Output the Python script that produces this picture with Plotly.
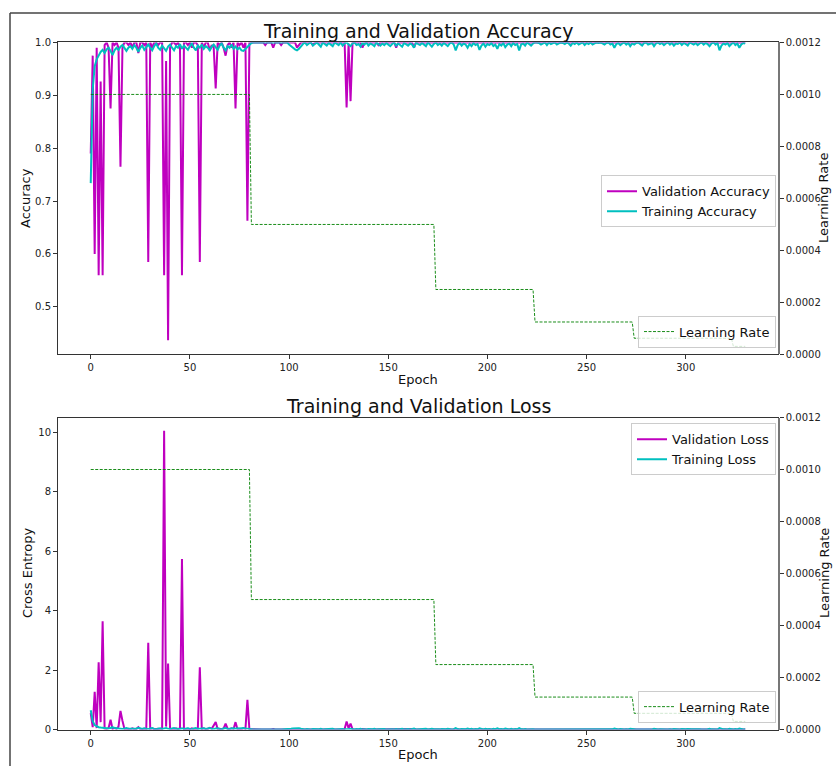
import plotly.graph_objects as go

# ---------------- data ----------------
epochs = list(range(331))

val_acc = [
    0.79, 0.975, 0.60, 0.99, 0.56, 0.926, 0.56, 0.995, 1.0, 0.99,
    0.875, 1.0, 0.995, 1.0, 0.99, 0.765, 0.99, 1.0, 1.0, 0.995,
    1.0, 0.99, 1.0, 1.0, 0.98, 1.0, 1.0, 0.995, 1.0, 0.585,
    1.0, 0.99, 1.0, 1.0, 0.995, 1.0, 1.0, 0.56, 0.965, 0.437,
    0.99, 1.0, 1.0, 0.995, 1.0, 0.99, 0.56, 1.0, 1.0, 0.995,
    1.0, 0.99, 1.0, 1.0, 0.995, 0.585, 1.0, 0.99, 1.0, 1.0,
    0.985, 0.995, 0.99, 0.913, 1.0, 0.995, 1.0, 0.99, 0.975, 0.995,
    1.0, 0.99, 1.0, 0.875, 1.0, 0.995, 1.0, 0.99, 1.0, 0.663,
    1.0, 1.0, 1.0, 1.0, 1.0, 1.0, 1.0, 1.0, 0.995, 1.0,
    1.0, 1.0, 0.99, 1.0, 1.0, 1.0, 0.995, 1.0, 1.0, 1.0,
    1.0, 1.0, 1.0, 1.0, 0.99, 0.995, 1.0, 1.0, 1.0, 1.0,
    1.0, 1.0, 0.995, 1.0, 1.0, 1.0, 1.0, 1.0, 1.0, 1.0,
    1.0, 1.0, 1.0, 1.0, 1.0, 1.0, 1.0, 1.0, 1.0, 0.877,
    0.998, 0.889, 1.0, 1.0, 1.0, 1.0, 1.0, 0.99, 1.0, 1.0,
    1.0, 1.0, 1.0, 1.0, 1.0, 0.995, 1.0, 1.0, 1.0, 1.0,
    1.0, 1.0, 1.0, 1.0, 0.99, 1.0, 1.0, 1.0, 1.0, 1.0,
    1.0, 1.0, 1.0, 0.99, 1.0, 1.0, 1.0, 1.0, 1.0, 1.0,
    1.0, 1.0, 1.0, 1.0, 1.0, 1.0, 1.0, 1.0, 1.0, 1.0,
    1.0, 1.0, 1.0, 1.0, 1.0, 1.0, 1.0, 1.0, 1.0, 1.0,
    1.0, 1.0, 1.0, 1.0, 1.0, 1.0, 1.0, 1.0, 1.0, 1.0,
    1.0, 1.0, 1.0, 1.0, 1.0, 1.0, 1.0, 1.0, 1.0, 1.0,
    1.0, 1.0, 1.0, 1.0, 1.0, 1.0, 1.0, 1.0, 1.0, 1.0,
    1.0, 1.0, 1.0, 1.0, 1.0, 1.0, 1.0, 1.0, 1.0, 1.0,
    1.0, 1.0, 1.0, 1.0, 1.0, 1.0, 1.0, 1.0, 1.0, 1.0,
    1.0, 1.0, 1.0, 1.0, 1.0, 1.0, 1.0, 1.0, 1.0, 1.0,
    1.0, 1.0, 1.0, 1.0, 1.0, 1.0, 1.0, 1.0, 1.0, 1.0,
    1.0, 1.0, 1.0, 1.0, 1.0, 1.0, 1.0, 1.0, 1.0, 1.0,
    1.0, 1.0, 1.0, 1.0, 1.0, 1.0, 1.0, 1.0, 1.0, 1.0,
    1.0, 1.0, 1.0, 1.0, 1.0, 1.0, 1.0, 1.0, 1.0, 1.0,
    1.0, 1.0, 1.0, 1.0, 1.0, 1.0, 1.0, 1.0, 1.0, 1.0,
    1.0, 1.0, 1.0, 1.0, 1.0, 1.0, 1.0, 1.0, 1.0, 1.0,
    1.0, 1.0, 1.0, 1.0, 1.0, 1.0, 1.0, 1.0, 1.0, 1.0,
    1.0, 1.0, 1.0, 1.0, 1.0, 1.0, 1.0, 1.0, 1.0, 1.0,
    1.0,
]

train_acc = [
    0.734, 0.912, 0.955, 0.968, 0.975, 0.982, 0.986, 0.98, 0.987, 0.99,
    0.984, 0.976, 0.985, 0.99, 0.986, 0.992, 0.995, 0.99, 0.984, 0.99,
    0.993, 0.988, 0.995, 0.99, 0.982, 0.99, 0.994, 0.986, 0.99, 0.996,
    0.99, 0.985, 0.993, 0.998, 0.99, 0.986, 0.994, 0.99, 0.984, 0.992,
    0.996, 0.99, 0.985, 0.993, 0.99, 0.997, 0.988, 0.994, 0.99, 0.986,
    0.993, 0.998, 0.99, 0.985, 0.994, 0.99, 0.996, 0.988, 0.993, 0.99,
    0.985, 0.992, 0.996, 0.99, 0.986, 0.994, 0.998, 0.99, 0.985, 0.993,
    0.99, 0.996, 0.988, 0.992, 0.987, 0.99, 0.985, 0.984, 0.988, 0.992,
    0.996, 0.999, 1.0, 1.0, 0.999, 1.0, 1.0, 1.0, 0.999, 1.0,
    1.0, 1.0, 0.999, 1.0, 1.0, 1.0, 1.0, 0.999, 1.0, 1.0,
    0.996, 0.992, 0.99, 0.987, 0.985, 0.988, 0.993, 0.997, 1.0, 0.995,
    0.998, 1.0, 0.994, 0.997, 1.0, 0.996, 0.992, 1.0, 0.996, 0.994,
    0.999, 0.996, 0.993, 1.0, 0.997, 0.995, 1.0, 0.994, 0.998, 1.0,
    0.996, 0.993, 0.998, 1.0, 0.995, 0.997, 0.992, 0.999, 0.996, 1.0,
    0.994, 0.998, 0.996, 0.993, 1.0, 0.997, 0.994, 0.998, 0.995, 0.999,
    0.996, 0.993, 0.997, 1.0, 0.994, 0.998, 0.995, 0.992, 0.999, 0.996,
    0.994, 0.998, 0.996, 0.99, 1.0, 0.997, 0.995, 0.999, 0.996, 0.993,
    1.0, 0.996, 0.992, 0.997, 1.0, 0.995, 0.998, 0.994, 0.999, 0.996,
    0.993, 0.998, 1.0, 0.996, 0.985, 0.995, 0.999, 0.994, 0.998, 0.996,
    0.99, 0.997, 0.993, 0.999, 0.995, 0.997, 0.986, 0.994, 0.998, 0.992,
    0.997, 0.995, 0.999, 0.993, 0.996, 0.988, 0.997, 0.994, 0.999, 0.991,
    0.996, 0.998, 0.993, 0.999, 0.995, 0.997, 0.985, 0.996, 0.998, 0.994,
    1.0, 0.997, 0.994, 0.998, 1.0, 1.0, 0.999, 0.996, 0.998, 1.0,
    0.995, 1.0, 0.997, 0.999, 1.0, 0.996, 0.998, 1.0, 0.999, 0.997,
    1.0, 0.998, 0.994, 0.999, 0.997, 1.0, 0.996, 0.998, 1.0, 0.995,
    0.999, 0.997, 1.0, 0.996, 0.998, 1.0, 0.999, 1.0, 0.998, 0.996,
    0.999, 1.0, 0.996, 0.998, 0.99, 0.997, 0.999, 0.995, 0.998, 1.0,
    0.996, 0.999, 0.993, 0.998, 0.996, 0.999, 1.0, 0.997, 0.994, 0.999,
    1.0, 0.996, 0.998, 0.999, 0.993, 0.998, 1.0, 0.997, 0.999, 0.995,
    0.998, 1.0, 0.996, 0.999, 0.994, 0.998, 0.997, 1.0, 0.995, 0.999,
    0.997, 0.994, 1.0, 0.998, 0.996, 0.999, 0.995, 0.998, 1.0, 0.996,
    0.999, 0.997, 0.993, 0.998, 1.0, 0.996, 0.999, 0.985, 0.994, 0.998,
    0.996, 0.999, 0.993, 0.997, 1.0, 0.995, 0.998, 0.99, 0.996, 0.999,
    0.998,
]

val_loss = [
    0.55, 0.08, 1.27, 0.05, 2.26, 0.25, 3.64, 0.03, 0.02, 0.05,
    0.33, 0.02, 0.06, 0.02, 0.10, 0.63, 0.30, 0.02, 0.01, 0.03,
    0.01, 0.04, 0.01, 0.02, 0.08, 0.01, 0.02, 0.03, 0.01, 2.92,
    0.01, 0.04, 0.01, 0.02, 0.03, 0.01, 0.02, 10.05, 0.10, 2.22,
    0.03, 0.02, 0.01, 0.04, 0.01, 0.05, 5.74, 0.01, 0.02, 0.03,
    0.01, 0.04, 0.01, 0.02, 0.03, 2.10, 0.01, 0.04, 0.01, 0.02,
    0.06, 0.03, 0.15, 0.25, 0.02, 0.03, 0.01, 0.04, 0.20, 0.03,
    0.01, 0.04, 0.02, 0.25, 0.01, 0.03, 0.01, 0.05, 0.02, 1.00,
    0.01, 0.005, 0.004, 0.005, 0.003, 0.004, 0.005, 0.003, 0.01, 0.004,
    0.003, 0.004, 0.02, 0.004, 0.003, 0.005, 0.01, 0.003, 0.004, 0.003,
    0.004, 0.003, 0.005, 0.004, 0.02, 0.01, 0.004, 0.003, 0.005, 0.004,
    0.003, 0.004, 0.01, 0.003, 0.004, 0.003, 0.005, 0.004, 0.003, 0.004,
    0.003, 0.004, 0.003, 0.005, 0.004, 0.003, 0.004, 0.003, 0.02, 0.27,
    0.05, 0.20, 0.01, 0.004, 0.003, 0.005, 0.004, 0.02, 0.003, 0.004,
    0.003, 0.004, 0.003, 0.005, 0.004, 0.01, 0.003, 0.004, 0.003, 0.004,
    0.003, 0.004, 0.005, 0.003, 0.02, 0.004, 0.003, 0.004, 0.003, 0.005,
    0.004, 0.003, 0.004, 0.02, 0.003, 0.004, 0.003, 0.004, 0.005, 0.003,
    0.003, 0.002, 0.003, 0.004, 0.002, 0.003, 0.002, 0.003, 0.004, 0.002,
    0.003, 0.002, 0.003, 0.002, 0.004, 0.003, 0.002, 0.003, 0.002, 0.003,
    0.002, 0.003, 0.004, 0.002, 0.003, 0.002, 0.003, 0.002, 0.003, 0.004,
    0.002, 0.003, 0.002, 0.003, 0.002, 0.004, 0.003, 0.002, 0.003, 0.002,
    0.003, 0.002, 0.003, 0.004, 0.002, 0.003, 0.002, 0.003, 0.002, 0.003,
    0.002, 0.003, 0.002, 0.003, 0.002, 0.002, 0.003, 0.002, 0.002, 0.003,
    0.002, 0.002, 0.003, 0.002, 0.002, 0.003, 0.002, 0.002, 0.003, 0.002,
    0.002, 0.003, 0.002, 0.002, 0.003, 0.002, 0.002, 0.003, 0.002, 0.002,
    0.003, 0.002, 0.002, 0.003, 0.002, 0.002, 0.003, 0.002, 0.002, 0.003,
    0.002, 0.002, 0.003, 0.002, 0.002, 0.003, 0.002, 0.002, 0.003, 0.002,
    0.002, 0.003, 0.002, 0.002, 0.003, 0.002, 0.002, 0.003, 0.002, 0.002,
    0.003, 0.002, 0.002, 0.003, 0.002, 0.002, 0.003, 0.002, 0.002, 0.003,
    0.002, 0.002, 0.003, 0.002, 0.002, 0.003, 0.002, 0.002, 0.003, 0.002,
    0.002, 0.003, 0.002, 0.002, 0.003, 0.002, 0.002, 0.003, 0.002, 0.002,
    0.003, 0.002, 0.002, 0.003, 0.002, 0.002, 0.003, 0.002, 0.002, 0.003,
    0.002, 0.002, 0.003, 0.002, 0.002, 0.003, 0.002, 0.002, 0.003, 0.002,
    0.003,
]

train_loss = [
    0.65, 0.28, 0.15, 0.10, 0.08, 0.07, 0.06, 0.065, 0.05, 0.04,
    0.055, 0.08, 0.05, 0.035, 0.045, 0.03, 0.02, 0.035, 0.05, 0.03,
    0.025, 0.04, 0.02, 0.03, 0.06, 0.03, 0.02, 0.045, 0.03, 0.015,
    0.035, 0.05, 0.02, 0.01, 0.03, 0.045, 0.02, 0.035, 0.05, 0.025,
    0.015, 0.035, 0.05, 0.02, 0.03, 0.01, 0.04, 0.02, 0.035, 0.045,
    0.02, 0.01, 0.035, 0.05, 0.02, 0.03, 0.015, 0.04, 0.02, 0.035,
    0.05, 0.025, 0.015, 0.035, 0.045, 0.02, 0.01, 0.035, 0.05, 0.02,
    0.03, 0.015, 0.04, 0.025, 0.045, 0.035, 0.05, 0.055, 0.04, 0.025,
    0.012, 0.005, 0.003, 0.002, 0.004, 0.002, 0.003, 0.002, 0.004, 0.002,
    0.002, 0.003, 0.004, 0.002, 0.003, 0.002, 0.002, 0.004, 0.002, 0.003,
    0.015, 0.03, 0.04, 0.05, 0.06, 0.045, 0.025, 0.012, 0.005, 0.018,
    0.008, 0.003, 0.02, 0.01, 0.002, 0.014, 0.028, 0.003, 0.015, 0.02,
    0.005, 0.014, 0.025, 0.002, 0.01, 0.018, 0.002, 0.02, 0.007, 0.002,
    0.014, 0.025, 0.007, 0.002, 0.018, 0.01, 0.028, 0.004, 0.014, 0.002,
    0.02, 0.007, 0.014, 0.025, 0.002, 0.01, 0.02, 0.007, 0.018, 0.004,
    0.014, 0.025, 0.01, 0.002, 0.02, 0.007, 0.018, 0.03, 0.004, 0.014,
    0.02, 0.007, 0.014, 0.035, 0.002, 0.01, 0.018, 0.004, 0.014, 0.025,
    0.002, 0.014, 0.03, 0.01, 0.002, 0.018, 0.007, 0.02, 0.004, 0.014,
    0.025, 0.007, 0.002, 0.014, 0.05, 0.018, 0.004, 0.02, 0.007, 0.014,
    0.035, 0.01, 0.025, 0.004, 0.018, 0.01, 0.045, 0.02, 0.007, 0.03,
    0.01, 0.018, 0.004, 0.025, 0.014, 0.04, 0.01, 0.02, 0.004, 0.032,
    0.014, 0.007, 0.025, 0.004, 0.018, 0.01, 0.05, 0.014, 0.007, 0.02,
    0.002, 0.01, 0.02, 0.007, 0.002, 0.002, 0.004, 0.014, 0.007, 0.002,
    0.018, 0.002, 0.01, 0.004, 0.002, 0.014, 0.007, 0.002, 0.004, 0.01,
    0.002, 0.007, 0.02, 0.004, 0.01, 0.002, 0.014, 0.007, 0.002, 0.018,
    0.004, 0.01, 0.002, 0.014, 0.007, 0.002, 0.004, 0.002, 0.007, 0.014,
    0.004, 0.002, 0.014, 0.007, 0.035, 0.01, 0.004, 0.018, 0.007, 0.002,
    0.014, 0.004, 0.025, 0.007, 0.014, 0.004, 0.002, 0.01, 0.02, 0.004,
    0.002, 0.014, 0.007, 0.004, 0.025, 0.007, 0.002, 0.01, 0.004, 0.018,
    0.007, 0.002, 0.014, 0.004, 0.02, 0.007, 0.01, 0.002, 0.018, 0.004,
    0.01, 0.02, 0.002, 0.007, 0.014, 0.004, 0.018, 0.007, 0.002, 0.014,
    0.004, 0.01, 0.025, 0.007, 0.002, 0.014, 0.004, 0.05, 0.02, 0.007,
    0.014, 0.004, 0.025, 0.01, 0.002, 0.018, 0.007, 0.035, 0.014, 0.004,
    0.007,
]

# learning-rate schedule: value per phase and first epoch of each new phase
lr_values = [0.001, 0.0005, 0.00025, 0.000125, 0.0000625, 0.00003125]
lr_change_epochs = [81, 174, 224, 274, 324]

learning_rate = []
for e in epochs:
    phase = sum(1 for c in lr_change_epochs if e >= c)
    learning_rate.append(lr_values[phase])

acc_ticks = [0.5, 0.6, 0.7, 0.8, 0.9, 1.0]
loss_ticks = [0, 2, 4, 6, 8, 10]
lr_ticks = [0.0, 0.0002, 0.0004, 0.0006, 0.0008, 0.0010, 0.0012]
epoch_ticks = [0, 50, 100, 150, 200, 250, 300]

# ---------------- style ----------------
W, H = 836, 772
FONT = "DejaVu Sans"
MAG = "#bf00bf"
CYAN = "#00bfbf"
GREEN = "#008000"
AX = "#333333"


def px_x(x):
    return x / W


def px_y(y):
    return 1 - y / H


x_dom = [px_x(58), px_x(778)]
top_dom = [px_y(354), px_y(37)]
bot_dom = [px_y(735), px_y(418)]

fig = go.Figure()

fig.add_trace(go.Scatter(x=epochs, y=val_acc, mode="lines", name="Validation Accuracy",
                         line=dict(color=MAG, width=2), xaxis="x", yaxis="y", legend="legend"))
fig.add_trace(go.Scatter(x=epochs, y=train_acc, mode="lines", name="Training Accuracy",
                         line=dict(color=CYAN, width=2), xaxis="x", yaxis="y", legend="legend"))
fig.add_trace(go.Scatter(x=epochs, y=learning_rate, mode="lines", name="Learning Rate",
                         line=dict(color=GREEN, width=0.9, dash="3px,1.5px"),
                         xaxis="x", yaxis="y2", legend="legend2"))

fig.add_trace(go.Scatter(x=epochs, y=val_loss, mode="lines", name="Validation Loss",
                         line=dict(color=MAG, width=2), xaxis="x2", yaxis="y3", legend="legend3"))
fig.add_trace(go.Scatter(x=epochs, y=train_loss, mode="lines", name="Training Loss",
                         line=dict(color=CYAN, width=2), xaxis="x2", yaxis="y3", legend="legend3"))
fig.add_trace(go.Scatter(x=epochs, y=learning_rate, mode="lines", name="Learning Rate",
                         line=dict(color=GREEN, width=0.9, dash="3px,1.5px"),
                         xaxis="x2", yaxis="y4", legend="legend4"))

axis_common = dict(showline=True, linecolor=AX, linewidth=1, mirror=True, ticks="outside",
                   ticklen=4, tickcolor=AX, showgrid=False, zeroline=False,
                   tickfont=dict(family=FONT, size=10, color="#222"))

xaxis_common = dict(axis_common, range=[-16.5, 346.5], tickvals=epoch_ticks)

legend_common = dict(bgcolor="rgba(255,255,255,0.8)", bordercolor="#cccccc", borderwidth=1,
                     font=dict(family=FONT, size=13, color="#111"), xanchor="right",
                     x=px_x(776), itemwidth=30, tracegroupgap=0)

fig.update_layout(
    width=W, height=H,
    margin=dict(l=0, r=0, t=0, b=0),
    paper_bgcolor="white", plot_bgcolor="white",
    xaxis=dict(xaxis_common, domain=x_dom, anchor="y"),
    yaxis=dict(axis_common, domain=top_dom, anchor="x", range=[0.41, 1.0],
               tickvals=acc_ticks, tickformat=".1f"),
    yaxis2=dict(axis_common, overlaying="y", side="right", anchor="x", range=[0, 0.0012],
                tickvals=lr_ticks, tickformat=".4f", mirror=False, linecolor="#777",
                linewidth=1.5),
    xaxis2=dict(xaxis_common, domain=x_dom, anchor="y3"),
    yaxis3=dict(axis_common, domain=bot_dom, anchor="x2", range=[0, 10.5],
                tickvals=loss_ticks),
    yaxis4=dict(axis_common, overlaying="y3", side="right", anchor="x2", range=[0, 0.0012],
                tickvals=lr_ticks, tickformat=".4f", mirror=False, linecolor="#777",
                linewidth=1.5),
    legend=dict(legend_common, y=px_y(172), yanchor="top"),
    legend2=dict(legend_common, y=px_y(347), yanchor="bottom"),
    legend3=dict(legend_common, y=px_y(424), yanchor="top"),
    legend4=dict(legend_common, y=px_y(728), yanchor="bottom"),
    showlegend=True,
)

annotations = [
    dict(text="Training and Validation Accuracy", x=px_x(418), y=px_y(25), size=19),
    dict(text="Training and Validation Loss", x=px_x(418), y=px_y(406), size=19),
    dict(text="Epoch", x=px_x(418), y=px_y(379), size=13),
    dict(text="Epoch", x=px_x(418), y=px_y(760), size=13),
    dict(text="Accuracy", x=px_x(26), y=px_y(195), size=13, angle=-90),
    dict(text="Cross Entropy", x=px_x(27), y=px_y(576), size=13, angle=-90),
    dict(text="Learning Rate", x=px_x(824), y=px_y(195), size=13, angle=-90),
    dict(text="Learning Rate", x=px_x(824), y=px_y(576), size=13, angle=-90),
]
for a in annotations:
    fig.add_annotation(text=a["text"], x=a["x"], y=a["y"], xref="paper", yref="paper",
                       showarrow=False, xanchor="center", yanchor="middle",
                       textangle=a.get("angle", 0),
                       font=dict(family=FONT, size=a["size"], color="#111"))

# outer frame lines of the cropped figure
fig.add_shape(type="line", xref="paper", yref="paper", x0=px_x(10), x1=px_x(10),
              y0=0, y1=px_y(7), line=dict(color="#444", width=1.5))
fig.add_shape(type="line", xref="paper", yref="paper", x0=px_x(10), x1=1,
              y0=px_y(7), y1=px_y(7), line=dict(color="#444", width=1.5))

fig.write_html(
    "out.html",
    config={"displayModeBar": False},
    post_script="document.body.style.margin='0';document.body.style.overflow='hidden';",
)
